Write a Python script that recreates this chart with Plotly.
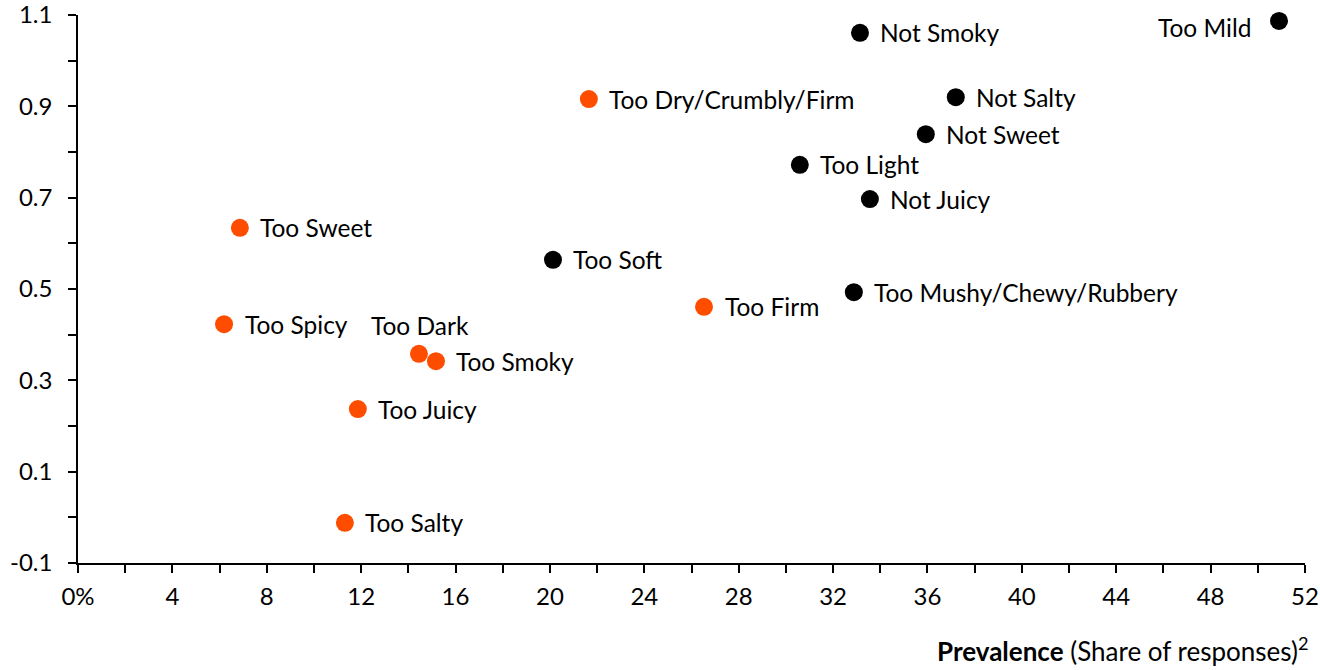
import plotly.graph_objects as go

# Data
black_labels = ["Not Smoky", "Too Mild", "Not Salty", "Not Sweet", "Too Light",
                "Not Juicy", "Too Soft", "Too Mushy/Chewy/Rubbery"]
black_x = [33.14, 50.9, 37.2, 35.93, 30.59, 33.56, 20.13, 32.88]
black_y = [1.061, 1.087, 0.920, 0.839, 0.772, 0.697, 0.564, 0.493]

orange_labels = ["Too Dry/Crumbly/Firm", "Too Sweet", "Too Firm", "Too Spicy", "Too Dark",
                 "Too Smoky", "Too Juicy", "Too Salty"]
orange_x = [21.65, 6.86, 26.53, 6.19, 14.45, 15.17, 11.86, 11.31]
orange_y = [0.916, 0.634, 0.461, 0.423, 0.358, 0.342, 0.237, -0.012]

x_ticks = [0, 4, 8, 12, 16, 20, 24, 28, 32, 36, 40, 44, 48, 52]
x_ticktext = ["0%", "4", "8", "12", "16", "20", "24", "28", "32", "36", "40", "44", "48", "52"]
y_ticks = [-0.1, 0.1, 0.3, 0.5, 0.7, 0.9, 1.1]
y_ticktext = ["-0.1", "0.1", "0.3", "0.5", "0.7", "0.9", "1.1"]

# label placement (style): default is to the right of the marker
DEFAULT_PLACE = dict(xanchor="left", xshift=18.5, yshift=0)
SPECIAL_PLACE = {
    "Too Mild": dict(xanchor="right", xshift=-26, yshift=-7),
    "Too Dark": dict(xanchor="center", xshift=1, yshift=28),
}

FONT = "Lato"
LABEL_SIZE = 24.5
fig = go.Figure()
fig.add_trace(go.Scatter(
    x=black_x, y=black_y, mode="markers", text=black_labels,
    marker=dict(size=18, color="#000000"), cliponaxis=False, showlegend=False))
fig.add_trace(go.Scatter(
    x=orange_x, y=orange_y, mode="markers", text=orange_labels,
    marker=dict(size=18, color="#FF4D00"), cliponaxis=False, showlegend=False))

annotations = []
for labels, xs, ys in [(black_labels, black_x, black_y), (orange_labels, orange_x, orange_y)]:
    for lab, xv, yv in zip(labels, xs, ys):
        p = SPECIAL_PLACE.get(lab, DEFAULT_PLACE)
        annotations.append(dict(text=lab, x=xv, y=yv, xref="x", yref="y",
                                xanchor=p["xanchor"], yanchor="middle",
                                xshift=p["xshift"], yshift=p["yshift"], showarrow=False,
                                font=dict(family=FONT, size=LABEL_SIZE, color="#000000")))

annotations.append(dict(text="<b>Prevalence</b> (Share of responses)<sup>2</sup>",
                        xref="paper", yref="paper", x=1.004, y=-0.157,
                        xanchor="right", yanchor="middle", showarrow=False,
                        font=dict(family=FONT, size=26, color="#000000")))

fig.update_layout(
    width=1320, height=670,
    margin=dict(l=78, r=15, t=15, b=107, autoexpand=False),
    paper_bgcolor="white", plot_bgcolor="white",
    font=dict(family=FONT, size=24, color="#000000"),
    xaxis=dict(range=[0, 52], tickvals=x_ticks, ticktext=x_ticktext, automargin=False,
               showgrid=False, zeroline=False, showline=True, linecolor="black",
               linewidth=1.5, ticks="outside", ticklen=8, tickwidth=1.5, tickcolor="black",
               minor=dict(dtick=2, tick0=0, ticks="outside", ticklen=8, tickwidth=1.5,
                          tickcolor="black", showgrid=False),
               ticklabelstandoff=3, ticklabeloverflow="allow", tickfont=dict(size=24)),
    yaxis=dict(range=[-0.1, 1.1], tickvals=y_ticks, ticktext=y_ticktext, automargin=False,
               showgrid=False, zeroline=False, showline=True, linecolor="black",
               linewidth=1.5, ticks="outside", ticklen=8, tickwidth=1.5, tickcolor="black",
               minor=dict(dtick=0.1, tick0=-0.1, ticks="outside", ticklen=8, tickwidth=1.5,
                          tickcolor="black", showgrid=False),
               ticklabelstandoff=11, ticklabeloverflow="allow", tickfont=dict(size=24)),
    annotations=annotations,
)

# remove the page's default 8px body margin so the figure fills the window exactly
fig.write_html("out.html", config={"displayModeBar": False},
               post_script="document.body.style.margin='0';document.body.style.overflow='hidden';")
